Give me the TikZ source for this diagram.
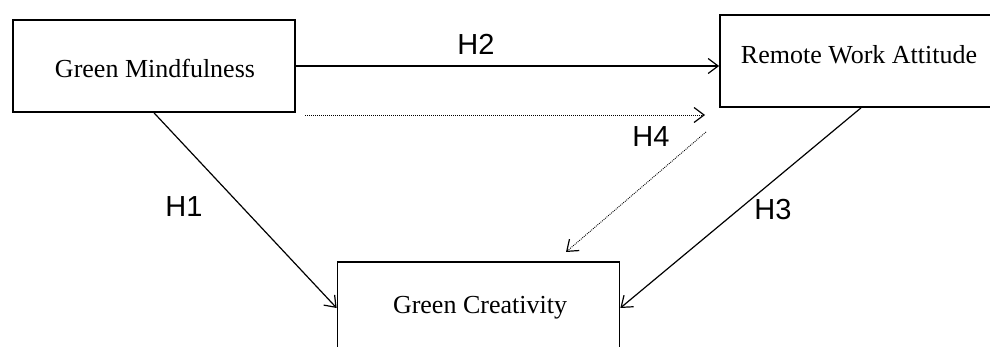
\documentclass[tikz,border=0pt]{standalone}
\usepackage{fontspec}
\setmainfont{Liberation Serif}
\newfontfamily\hfont{Liberation Sans}
\usetikzlibrary{arrows.meta}
\begin{document}
\begin{tikzpicture}[x=1pt,y=-1pt,
  box/.style={draw, line width=1.7pt, minimum width=282pt, inner sep=0pt},
  boxtext/.style={font=\fontsize{26}{30}\selectfont, inner sep=0pt},
  hlab/.style={font=\hfont\fontsize{29}{32}\selectfont, inner sep=0pt},
  arr/.style={line width=1.2pt, -{Straight Barb[length=10pt,width=15pt,line width=1.2pt]}},
  dotarr/.style={line width=0.9pt, dash pattern=on 0.9pt off 1.1pt, -{Straight Barb[length=10pt,width=15pt,line width=1.2pt]}}
]
\useasboundingbox (0,0) rectangle (990,347);
\node[box, minimum height=92pt] (gm) at (154,66) {};
\node[box, minimum height=92pt] (rwa) at (861,61) {};
\node[box, minimum height=92pt] (gc) at (478.5,308) {};
\node[boxtext] (gmt) at (155,68) {Green Mindfulness};
\node[boxtext] (rwat) at (859,55) {Remote Work Attitude};
\node[boxtext] (gct) at (480,308) {Green Creativity};
\coordinate (d1s) at (305,115);
\coordinate (d1e) at (705,115);
\coordinate (d2s) at (706,132);
\coordinate (d2e) at (566,252);
\draw[arr] (gm.east) -- (gm.east -| rwa.west);
\draw[dotarr] (d1s) -- (d1e);
\draw[dotarr] (d2s) -- (d2e);
\draw[arr] (gm.south) -- (gc.west);
\draw[arr] (rwa.south) -- (gc.east);
\node[hlab] (h1) at (184,207) {H1};
\node[hlab] (h2) at (476,44) {H2};
\node[hlab] (h3) at (773,210) {H3};
\node[hlab] (h4) at (651,137) {H4};
\end{tikzpicture}
\end{document}
